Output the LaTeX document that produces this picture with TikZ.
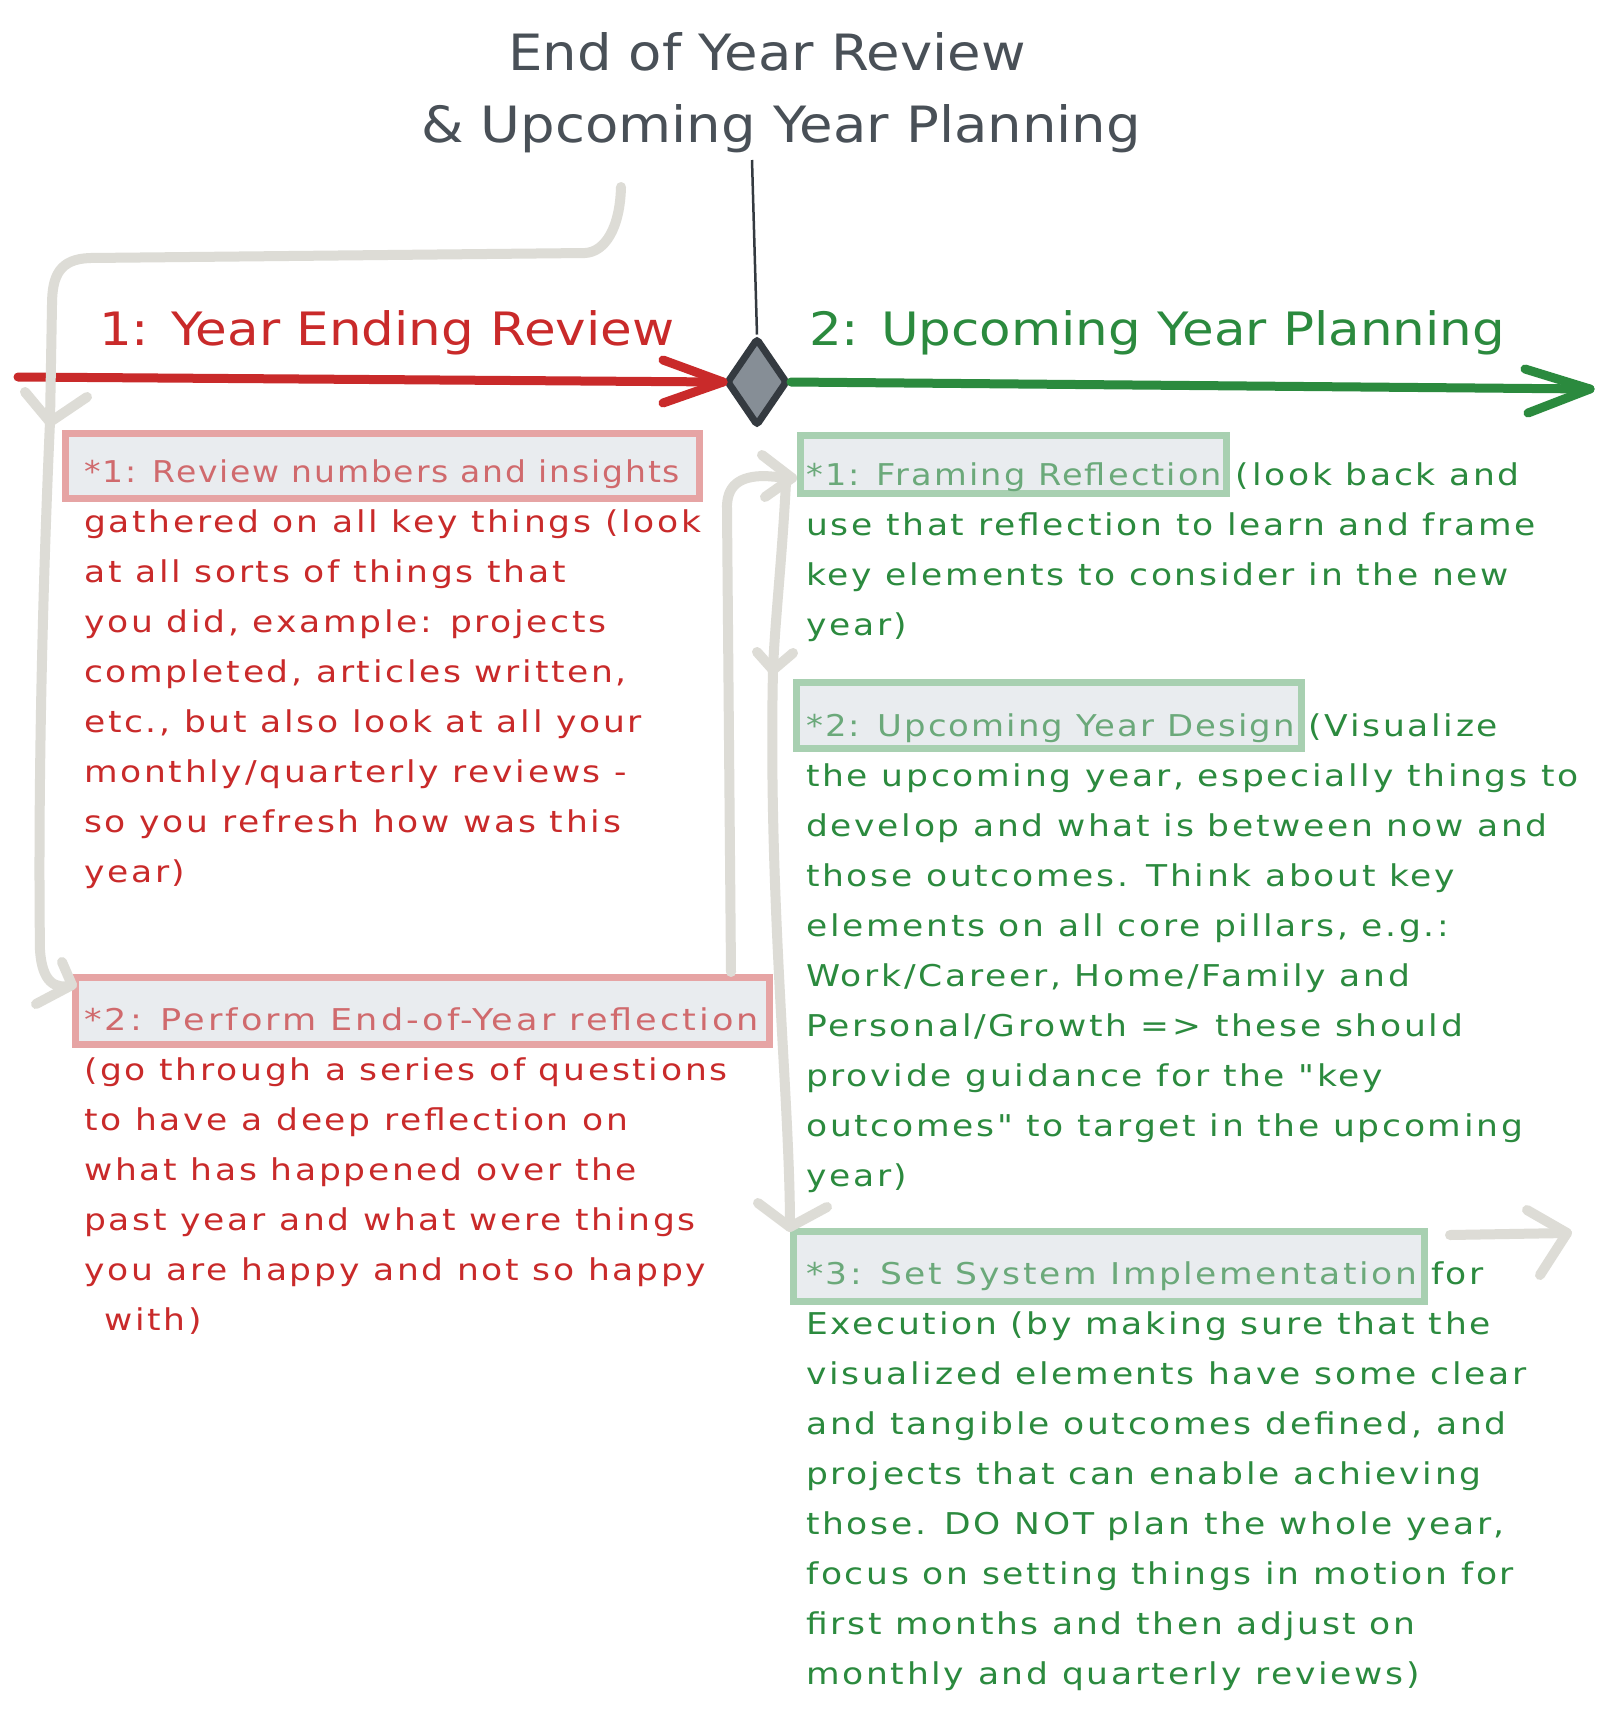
\documentclass[tikz,border=0pt]{standalone}
\usepackage{fontspec}
\setmainfont{DejaVu Sans}
\newfontfamily\bodyhand[FakeStretch=1.15,LetterSpace=9]{DejaVu Sans}
\newfontfamily\taghand[FakeStretch=1.1,LetterSpace=6]{DejaVu Sans}
\newfontfamily\headhand[FakeStretch=1.12]{DejaVu Sans}
\newfontfamily\titlehand[FakeStretch=1.09]{DejaVu Sans}
\usetikzlibrary{shapes.geometric}

\definecolor{ink}{HTML}{343A40}
\definecolor{titleink}{HTML}{495057}
\definecolor{redink}{HTML}{C92A2A}
\definecolor{redsoft}{HTML}{D06A6D}
\definecolor{redframe}{HTML}{E6A4A4}
\definecolor{greenink}{HTML}{2B8A3E}
\definecolor{greensoft}{HTML}{6BA97A}
\definecolor{greenframe}{HTML}{A8D0B1}
\definecolor{boxfill}{HTML}{E9ECEF}
\definecolor{linkgray}{HTML}{DDDCD6}
\definecolor{diamondfill}{HTML}{868E96}

% tag label font; the optional argument widens the tracking of one label
\newcommand{\tagfont}[1][]{\taghand\fontsize{30}{40}\selectfont\addfontfeatures{#1}}

\begin{document}
\begin{tikzpicture}[x=1pt,y=-1pt,
  link/.style={draw=linkgray, line width=10pt, line cap=round, line join=round},
  timeline/.style={line width=9pt, line cap=round, line join=round},
  body/.style={anchor=base west, inner sep=0pt, font=\bodyhand\fontsize{30}{40}\selectfont},
  redbody/.style={body, text=redink},
  greenbody/.style={body, text=greenink},
  tagline/.style={anchor=base west, inner sep=0pt},
  tag/.style={fill=boxfill, line width=7pt, inner sep=0pt},
  redtag/.style={tag, draw=redframe},
  greentag/.style={tag, draw=greenframe},
  heading/.style={anchor=base west, inner sep=0pt, font=\headhand\fontsize{46}{56}\selectfont},
  titletext/.style={anchor=base, inner sep=0pt, font=\titlehand\fontsize{50}{60}\selectfont, text=titleink}]

\fill[white] (0,0) rectangle (1624,1717);
\useasboundingbox (0,0) rectangle (1624,1717);

% title
\node[titletext] (t1) at (767,70) {End of Year Review};
\node[titletext] (t2) at (781,142) {\& Upcoming Year Planning};

% phase headings
\node[heading, text=redink] (h1) at (99,345) {1: Year Ending Review};
\node[heading, text=greenink] (h2) at (809,345) {2: Upcoming Year Planning};

% milestone between the two phases
\node[diamond, draw=ink, fill=diamondfill, line width=7pt, minimum width=61pt,
      minimum height=88pt, inner sep=0pt, rounded corners=3pt] (dia) at (757,382) {};
\coordinate (titlelink) at (752,160);
\coordinate (rstart) at (18,377);
\coordinate (gend) at (1590,389);

% time lines
\draw[timeline, draw=redink] (rstart) -- (dia.west);
\draw[timeline, draw=redink] (dia.west) ++(-60,-22) -- (dia.west) -- ++(-60,21);
\draw[timeline, draw=greenink] (dia.east) -- (gend);
\draw[timeline, draw=greenink] (gend) ++(-65,-20) -- (gend) -- ++(-62,24);
\draw[draw=ink, line width=2.5pt] (titlelink) -- (dia.north);

% step boxes
\node[redtag, minimum width=634pt, minimum height=65pt] (ra) at (382.5,466) {};
\node[redtag, minimum width=694pt, minimum height=67pt] (rb) at (422.5,1011) {};
\node[greentag, minimum width=426pt, minimum height=58pt] (ga) at (1013.5,464.5) {};
\node[greentag, minimum width=505pt, minimum height=66pt] (gb) at (1049,715.5) {};
\node[greentag, minimum width=631pt, minimum height=70pt] (gc) at (1109,1266.5) {};

% flow connectors
\coordinate (c1s) at (621,187);
\coordinate (c1e) at (50,422);
\draw[link] (c1s) .. controls (620,228) and (605,252) .. (585,253) -- (90,258)
  .. controls (60,259) and (52,275) .. (52,305) -- (c1e);
\draw[link] (c1e) ++(-25,-30) -- (c1e) -- ++(37,-25);

\coordinate (c2e) at (72,985);
\draw[link] (c1e) .. controls (42,600) and (38,800) .. (40,950)
  .. controls (42,982) and (55,990) .. (c2e);
\draw[link] (c2e) ++(-10,-23) -- (c2e) -- ++(-36,19);

\coordinate (c3s) at (731,972);
\coordinate (c3e) at (792,478);
\draw[link] (c3s) -- (727,510) .. controls (726,485) and (740,476) .. (765,476) -- (c3e);
\draw[link] (c3e) ++(-30,-23) -- (c3e) -- ++(-27,19);

\coordinate (c4s) at (786,482);
\coordinate (c4e) at (773,670);
\draw[link] (c4s) .. controls (782,560) and (775,620) .. (c4e);
\draw[link] (c4e) ++(-16,-18) -- (c4e) -- ++(20,-17);

\coordinate (c5e) at (790,1227);
\draw[link] (c4e) .. controls (768,900) and (790,1100) .. (c5e);
\draw[link] (c5e) ++(-32,-24) -- (c5e) -- ++(37,-20);

\coordinate (c6s) at (1450,1235);
\coordinate (c6e) at (1567,1233);
\draw[link] (c6s) -- (c6e);
\draw[link] (c6e) ++(-40,-23) -- (c6e) -- ++(-27,42);

% left column text
\node[tagline, font=\tagfont, text=redsoft] (ra0) at (84,482) {*1: Review numbers and insights};
\foreach \t [count=\i] in {
  {gathered on all key things (look},
  {at all sorts of things that},
  {you did, example: projects},
  {completed, articles written,},
  {etc., but also look at all your},
  {monthly/quarterly reviews -},
  {so you refresh how was this},
  {year)}}
  \node[redbody] (ra\i) at (84,482+50*\i) {\t};

\node[tagline, font={\tagfont[FakeStretch=1.17,LetterSpace=10]}, text=redsoft] (rb0) at (84,1030)
  {*2: Perform End-of-Year reflection};
\foreach \t [count=\i] in {
  {(go through a series of questions},
  {to have a deep reflection on},
  {what has happened over the},
  {past year and what were things},
  {you are happy and not so happy}}
  \node[redbody] (rb\i) at (84,1030+50*\i) {\t};
\node[redbody] (rb6) at (104,1330) {with)};

% right column text
\node[greenbody] (ga0) at (806,485)
  {{\tagfont[FakeStretch=1.12,LetterSpace=7]\color{greensoft}*1: Framing Reflection} (look back and};
\foreach \t [count=\i] in {
  {use that reflection to learn and frame},
  {key elements to consider in the new},
  {year)}}
  \node[greenbody] (ga\i) at (806,485+50*\i) {\t};

\node[greenbody] (gb0) at (806,736)
  {{\tagfont[FakeStretch=1.13,LetterSpace=7]\color{greensoft}*2: Upcoming Year Design} (Visualize};
\foreach \t [count=\i] in {
  {the upcoming year, especially things to},
  {develop and what is between now and},
  {those outcomes. Think about key},
  {elements on all core pillars, e.g.:},
  {Work/Career, Home/Family and},
  {Personal/Growth => these should},
  {provide guidance for the "key},
  {outcomes" to target in the upcoming},
  {year)}}
  \node[greenbody] (gb\i) at (806,736+50*\i) {\t};

\node[greenbody] (gc0) at (806,1284)
  {{\tagfont[FakeStretch=1.15,LetterSpace=8.5]\color{greensoft}*3: Set System Implementation} for};
\foreach \t [count=\i] in {
  {Execution (by making sure that the},
  {visualized elements have some clear},
  {and tangible outcomes defined, and},
  {projects that can enable achieving},
  {those. DO NOT plan the whole year,},
  {focus on setting things in motion for},
  {first months and then adjust on},
  {monthly and quarterly reviews)}}
  \node[greenbody] (gc\i) at (806,1284+50*\i) {\t};

\end{tikzpicture}
\end{document}
